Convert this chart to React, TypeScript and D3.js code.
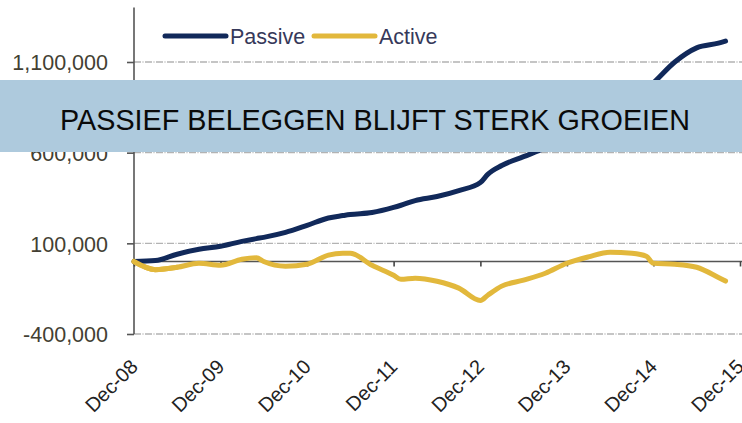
import React, { useEffect, useRef } from 'react'
import * as d3 from 'd3'

// quarterly (plus a few turning points) readings
const months = [
  '2008-12', '2009-03', '2009-06', '2009-09', '2009-12', '2010-03', '2010-05', '2010-06',
  '2010-09', '2010-12', '2011-03', '2011-05', '2011-06', '2011-09', '2011-12', '2012-01',
  '2012-03', '2012-06', '2012-09', '2012-12', '2013-01', '2013-03', '2013-06', '2013-09',
  '2013-12', '2014-03', '2014-06', '2014-09', '2014-11', '2014-12', '2015-03', '2015-06',
  '2015-09', '2015-10',
]
// thousands
const passive = [
  0, 5, 40, 67, 84, 111, 126, 133, 160, 199, 240, 253, 259, 270, 298, 310,
  336, 358, 391, 435, 480, 529, 578, 627, 693, 759, 830, 902, 950, 985, 1100, 1178,
  1204, 1215,
]
const active = [
  0, -45, -32, -10, -21, 12, 20, 0, -26, -15, 35, 45, 45, -21, -76, -98,
  -92, -109, -147, -215, -186, -136, -103, -65, -10, 25, 51, 45, 29, -10, -15, -32,
  -88, -108,
]
const yTicks = [-400000, 100000, 600000, 1100000]
const xTickLabels = ['Dec-08', 'Dec-09', 'Dec-10', 'Dec-11', 'Dec-12', 'Dec-13', 'Dec-14', 'Dec-15']
const title = 'PASSIEF BELEGGEN BLIJFT STERK GROEIEN'

const NAVY = '#11295a'
const GOLD = '#e2b83c'
const FONT = '"Liberation Sans", Arial, sans-serif'

const App = () => {
  const ref = useRef<SVGSVGElement>(null)

  useEffect(() => {
    const svg = d3.select(ref.current)
    svg.selectAll('*').remove()

    const parse = d3.timeParse('%Y-%m')
    const dates = months.map((m) => parse(m) as Date)

    const x = d3
      .scaleTime()
      .domain([parse('2008-12') as Date, parse('2015-12') as Date])
      .range([134, 740])
    const y = d3.scaleLinear().domain([-400000, 1400000]).range([334, 7.6])

    // dashed gridlines
    svg
      .append('g')
      .selectAll('line')
      .data(yTicks)
      .join('line')
      .attr('x1', 134)
      .attr('x2', 742)
      .attr('y1', (d) => y(d))
      .attr('y2', (d) => y(d))
      .style('stroke', '#b3b3b3')
      .style('stroke-width', 1.3)
      .style('stroke-dasharray', '7,1.5,1,1.5')

    // y axis
    const fmt = d3.format(',')
    const yAxis = d3
      .axisLeft(y)
      .tickValues(yTicks)
      .tickFormat((d) => fmt(d as number).replace('\u2212', '-'))
      .tickSize(7)
      .tickPadding(19)
    const gy = svg.append('g').attr('transform', 'translate(134,0)').call(yAxis)
    gy.select('.domain').attr('d', `M0,${y(1400000)}V${y(-400000)}`).style('stroke', '#555').style('stroke-width', 1.6)
    gy.selectAll('.tick line').style('stroke', '#555').style('stroke-width', 1.6)
    gy.selectAll('.tick text')
      .style('font-family', FONT)
      .style('font-size', '21.5px')
      .style('fill', '#433f33')
      .attr('dy', '0.36em')

    // x axis on the zero line
    const xTicks = xTickLabels.map((_, i) => new Date(2008 + i, 11, 1))
    const xAxis = d3
      .axisBottom(x)
      .tickValues(xTicks)
      .tickFormat((_, i) => xTickLabels[i])
      .tickSize(5)
      .tickSizeOuter(0)
    const gx = svg.append('g').attr('transform', `translate(0,${y(0)})`).call(xAxis)
    gx.select('.domain').attr('d', `M134,0H742`).style('stroke', '#555').style('stroke-width', 1.6)
    gx.selectAll('.tick line').style('stroke', '#444').style('stroke-width', 1.6)
    gx.selectAll('.tick text').remove()

    // rotated date labels under the plot
    svg
      .append('g')
      .selectAll('text')
      .data(xTicks)
      .join('text')
      .attr('transform', (d) => `translate(${x(d) + 5},368) rotate(-45)`)
      .attr('text-anchor', 'end')
      .style('font-family', FONT)
      .style('font-size', '20px')
      .style('fill', '#222')
      .text((_, i) => xTickLabels[i])

    const line = d3
      .line<number>()
      .x((_, i) => x(dates[i]))
      .y((d) => y(d * 1000))
      .curve(d3.curveMonotoneX)

    svg
      .append('path')
      .attr('d', line(active))
      .style('fill', 'none')
      .style('stroke', GOLD)
      .style('stroke-width', 5)
      .style('stroke-linejoin', 'round')
      .style('stroke-linecap', 'round')
    svg
      .append('path')
      .attr('d', line(passive))
      .style('fill', 'none')
      .style('stroke', NAVY)
      .style('stroke-width', 5)
      .style('stroke-linejoin', 'round')
      .style('stroke-linecap', 'round')
    // redraw start so active sits on top where they overlap
    svg
      .append('path')
      .attr('d', line(active.slice(0, 3)))
      .style('fill', 'none')
      .style('stroke', GOLD)
      .style('stroke-width', 5)
      .style('stroke-linecap', 'round')

    // legend
    const legend = [
      { name: 'Passive', color: NAVY, x: 165 },
      { name: 'Active', color: GOLD, x: 314 },
    ]
    const lg = svg.append('g').selectAll('g').data(legend).join('g')
    lg.append('line')
      .attr('x1', (d) => d.x)
      .attr('x2', (d) => d.x + 61)
      .attr('y1', 36)
      .attr('y2', 36)
      .style('stroke', (d) => d.color)
      .style('stroke-width', 5)
      .style('stroke-linecap', 'round')
    lg.append('text')
      .attr('x', (d) => d.x + 65)
      .attr('y', 43.5)
      .style('font-family', FONT)
      .style('font-size', '21.5px')
      .style('fill', '#36395a')
      .text((d) => d.name)

    // banner over the chart
    svg.append('rect').attr('x', 0).attr('y', 80).attr('width', 742).attr('height', 72).style('fill', '#aecadd')
    svg
      .append('text')
      .attr('x', 60)
      .attr('y', 130)
      .attr('textLength', 630)
      .attr('lengthAdjust', 'spacingAndGlyphs')
      .style('font-family', FONT)
      .style('font-size', '29px')
      .style('fill', '#0a0a0a')
      .text(title)
  }, [])

  return (
    <svg
      ref={ref}
      width={742}
      height={423}
      style={{ position: 'absolute', left: 0, top: 0, background: '#fff' }}
    />
  )
}

export default App
